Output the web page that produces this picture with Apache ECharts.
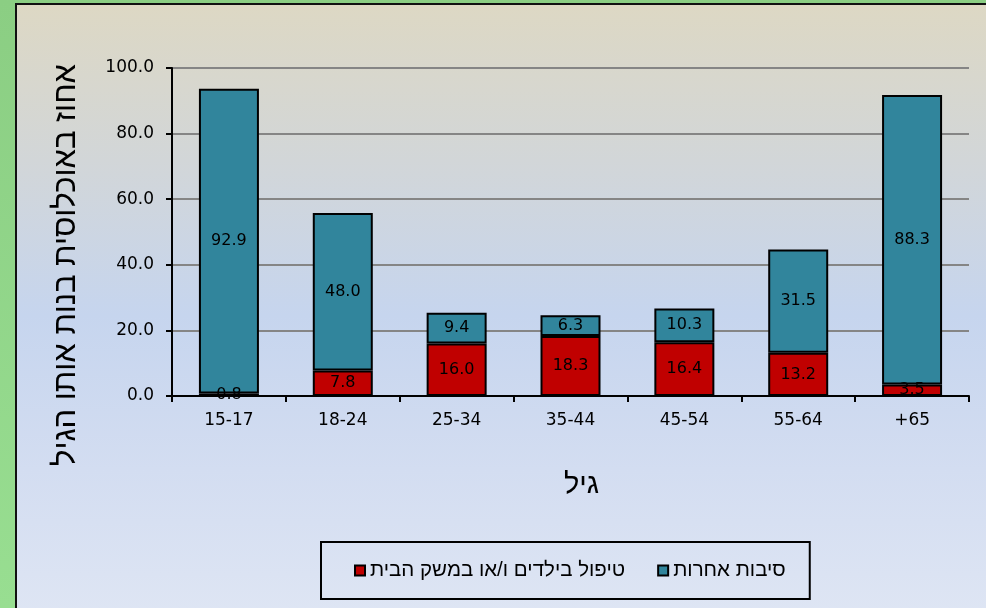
<!DOCTYPE html>
<html>
<head>
<meta charset="utf-8">
<script src="https://cdn.jsdelivr.net/npm/echarts@6/dist/echarts.min.js"></script>
<style>
html,body{margin:0;padding:0;width:986px;height:608px;overflow:hidden;}
body{background:linear-gradient(#8bce83,#98de91);}
#panel{position:absolute;left:15px;top:3px;width:980px;height:620px;border:2px solid #111;
background:linear-gradient(#ddd8c4 0%,#d2d6d8 25%,#c6d5ee 50%,#d3ddf1 75%,#dfe6f4 100%);}
#chart{position:absolute;left:17px;top:5px;width:969px;height:603px;}
</style>
</head>
<body>
<div id="panel"></div>
<div id="chart"></div>
<script>
const categories = ['15-17','18-24','25-34','35-44','45-54','55-64','+65'];
const childcare = [0.8, 7.8, 16.0, 18.3, 16.4, 13.2, 3.5];
const otherReasons = [92.9, 48.0, 9.4, 6.3, 10.3, 31.5, 88.3];
const yTicks = [0, 20, 40, 60, 80, 100];
const nameChildcare = 'טיפול בילדים ו/או במשק הבית';
const nameOther = 'סיבות אחרות';
const yTitle = 'אחוז באוכלוסית בנות אותו הגיל';
const xTitle = 'גיל';

const chart = echarts.init(document.getElementById('chart'), null, {renderer:'canvas'});
const labelCfg = {
  show: true, position: 'inside', color: '#000',
  fontFamily: 'DejaVu Sans', fontSize: 16,
  formatter: p => p.value.toFixed(1)
};
chart.setOption({
  backgroundColor: 'transparent',
  animation: false,
  grid: {left: 155, right: 17, top: 63, bottom: 212, containLabel: false},
  legend: {
    data: [nameChildcare, nameOther],
    left: 304, top: 537,
    padding: [18, 24, 18, 33],
    itemGap: 32,
    itemWidth: 10, itemHeight: 10,
    icon: 'rect',
    borderColor: '#000', borderWidth: 2,
    textStyle: {fontFamily: 'Liberation Sans', fontSize: 20.5, color: '#000'}
  },
  xAxis: {
    type: 'category', data: categories,
    axisLine: {lineStyle: {color: '#000', width: 2}},
    axisTick: {show: true, length: 6, lineStyle: {color: '#000', width: 2}},
    axisLabel: {color: '#000', fontFamily: 'DejaVu Sans', fontSize: 17, margin: 16},
    name: xTitle, nameLocation: 'middle', nameGap: 74,
    nameTextStyle: {fontFamily: 'Liberation Sans', fontSize: 29, color: '#000', padding: [0, 0, 0, 22]}
  },
  yAxis: {
    type: 'value', min: yTicks[0], max: yTicks[yTicks.length-1], interval: 20,
    axisLine: {show: true, lineStyle: {color: '#000', width: 2}},
    axisTick: {show: true, length: 6, lineStyle: {color: '#000', width: 2}},
    axisLabel: {color: '#000', fontFamily: 'DejaVu Sans', fontSize: 17, margin: 18,
      formatter: v => v.toFixed(1)},
    splitLine: {lineStyle: {color: '#858585', width: 2}},
    name: yTitle, nameLocation: 'middle', nameRotate: 90, nameGap: 90,
    nameTextStyle: {fontFamily: 'Liberation Sans', fontSize: 31, color: '#000', padding: [0, 66, 0, 0]}
  },
  series: [
    {
      name: nameChildcare, type: 'bar', stack: 'total', data: childcare,
      barWidth: 60,
      itemStyle: {color: '#c00000', borderColor: '#000', borderWidth: 2},
      label: labelCfg
    },
    {
      name: nameOther, type: 'bar', stack: 'total', data: otherReasons,
      barWidth: 60,
      itemStyle: {color: '#31859c', borderColor: '#000', borderWidth: 2},
      label: labelCfg
    }
  ]
});
</script>
</body>
</html>
